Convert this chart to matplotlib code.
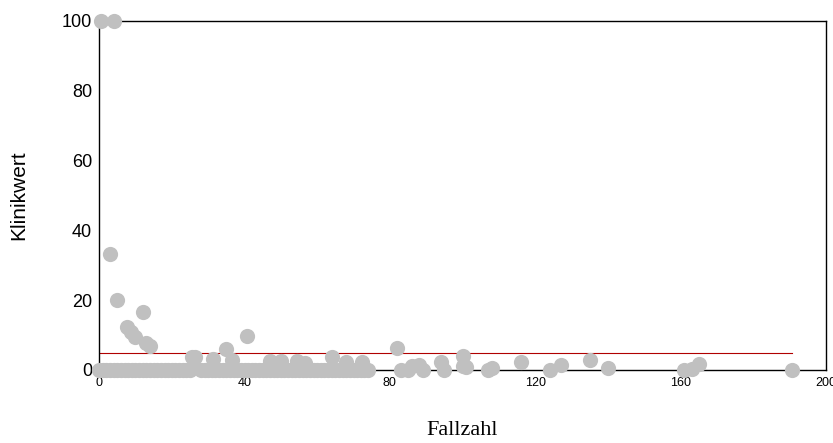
import matplotlib
matplotlib.use("Agg")
import matplotlib.pyplot as plt

plt.rcParams["font.family"] = ["Liberation Sans", "DejaVu Sans"]

# cases (Fallzahl) vs clinic value (Klinikwert): points above zero
fallzahl = [0.5, 4, 3, 5, 7.7, 8.8, 10, 12, 13, 14, 25.6, 26.5, 31.4, 35, 36.6, 40.7,
            47, 50, 54.5, 56.7, 64, 68, 72.3, 82, 86, 88, 94, 100, 100, 101, 108, 116,
            127, 135, 140, 163, 165]
klinikwert = [100, 100, 33.3, 20, 12.3, 11, 9.5, 16.7, 7.7, 7, 3.7, 3.8, 3.1, 6, 3, 9.7,
              2.6, 2.6, 2.6, 2, 3.7, 2.3, 2.3, 6.3, 1.2, 1.4, 2.2, 4, 1.2, 1, 0.7, 2.3,
              1.4, 2.9, 0.7, 0.4, 1.7]
# points sitting on zero
fallzahl_zero = [0, 1, 2, 3, 4, 5, 6, 7, 8, 9, 10, 11, 12, 13, 14, 15, 16, 17, 18, 19, 20,
                 21, 22, 23, 24, 25, 28, 29, 30, 31, 32, 33, 34, 35, 36, 37, 38, 39, 40, 41,
                 42, 43, 44, 45, 46, 47, 48, 49, 50, 51, 52, 53, 54, 55, 56, 57, 58, 59, 60,
                 61, 62, 63, 64, 65, 66, 67, 68, 69, 70, 71, 72, 73, 74,
                 83, 85, 89, 95, 107, 124, 161, 190.7]
klinikwert_zero = [0] * len(fallzahl_zero)
ref_value = 4.9
x_ticks = [0, 40, 80, 120, 160, 200]
y_ticks = [0, 20, 40, 60, 80, 100]

fig = plt.figure(figsize=(8.33, 4.43), dpi=100)
ax = fig.add_axes([0.119, 0.1648, 0.8726, 0.7878])
for xs, ys in [(fallzahl_zero, klinikwert_zero), (fallzahl, klinikwert)]:
    ax.scatter(xs, ys, s=120, color="#c0c0c0", linewidths=0, zorder=3, clip_on=False)
all_x = fallzahl + fallzahl_zero
ax.plot([min(all_x), max(all_x)], [ref_value, ref_value], color="#b00000", lw=0.8, zorder=2)

ax.set_xlim(0, 200); ax.set_ylim(0, 100)
ax.set_xticks(x_ticks); ax.set_yticks(y_ticks)
ax.tick_params(axis="x", length=0, labelsize=9, pad=5)
ax.tick_params(axis="y", length=0, labelsize=13, pad=5)
for s in ax.spines.values():
    s.set_color("black"); s.set_linewidth(1.0)
ax.set_ylabel("Klinikwert", fontsize=15, labelpad=24)
ax.set_xlabel("Fallzahl", fontsize=16, family=["Liberation Serif", "DejaVu Serif"], labelpad=23)
fig.savefig("out.png", dpi=100)
